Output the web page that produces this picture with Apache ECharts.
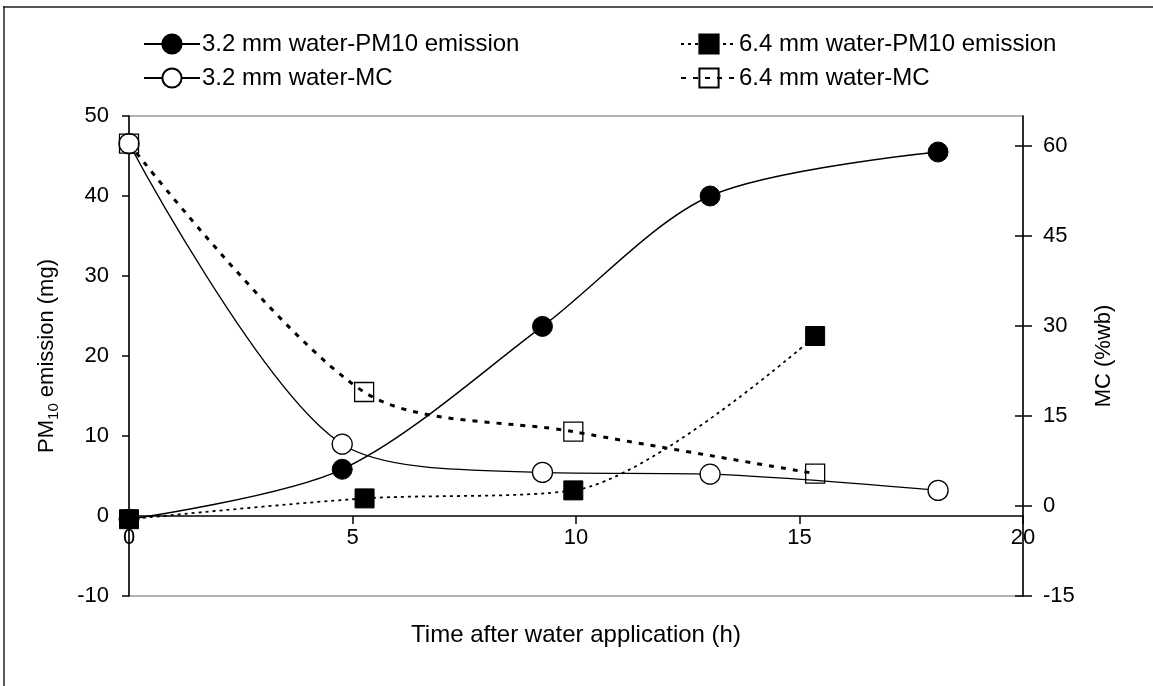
<!DOCTYPE html>
<html>
<head>
<meta charset="utf-8">
<script src="https://cdn.jsdelivr.net/npm/echarts@6/dist/echarts.min.js"></script>
<style>
  html, body { margin: 0; padding: 0; background: #fff; }
  #chart { width: 1153px; height: 686px; }
</style>
</head>
<body>
<div id="chart"></div>
<script>
// Time after water application (h) and measured values
const pm32Time  = [0, 4.77, 9.25, 13.0, 18.1];
const pm32Value = [-0.4, 5.84, 23.7, 40.0, 45.5];   // PM10 emission (mg), 3.2 mm water

const pm64Time  = [0, 5.27, 9.94, 15.35];
const pm64Value = [-0.4, 2.2, 3.2, 22.5];           // PM10 emission (mg), 6.4 mm water

const mc32Time  = [0, 4.77, 9.25, 13.0, 18.1];
const mc32Value = [60.4, 10.3, 5.6, 5.3, 2.6];      // MC (%wb), 3.2 mm water

const mc64Time  = [0, 5.26, 9.94, 15.35];
const mc64Value = [60.4, 19.0, 12.4, 5.4];          // MC (%wb), 6.4 mm water

const seriesNames = [
  '3.2 mm water-PM10 emission',
  '6.4 mm water-PM10 emission',
  '3.2 mm water-MC',
  '6.4 mm water-MC'
];

const xTicks = [0, 5, 10, 15, 20];
const leftTicks = [-10, 0, 10, 20, 30, 40, 50];
const rightTicks = [-15, 0, 15, 30, 45, 60];

const pairs = (xs, ys) => xs.map((x, i) => [x, ys[i]]);

const FONT = 'Liberation Sans, Arial, sans-serif';
const BLACK = '#000';

const chart = echarts.init(document.getElementById('chart'), null, { renderer: 'canvas' });

const legendBase = {
  itemWidth: 56,
  itemHeight: 24,
  itemGap: 0,
  textStyle: { fontFamily: FONT, fontSize: 24, color: BLACK, padding: [0, 0, 0, -3] },
  selectedMode: false
};

chart.setOption({
  animation: false,
  backgroundColor: '#fff',
  textStyle: { fontFamily: FONT },
  grid: {
    left: 129, right: 130, top: 116, bottom: 90,
    outerBoundsMode: 'none',
    containLabel: false,
    show: true, borderColor: '#999', borderWidth: 1.5, backgroundColor: 'transparent'
  },
  legend: [
    Object.assign({ left: 138, top: 27, data: [seriesNames[0]] }, legendBase),
    Object.assign({ left: 675, top: 27, data: [seriesNames[1]] }, legendBase),
    Object.assign({ left: 138, top: 61, data: [seriesNames[2]] }, legendBase),
    Object.assign({ left: 675, top: 61, data: [seriesNames[3]] }, legendBase)
  ],
  xAxis: {
    type: 'value', min: 0, max: 20, interval: 5,
    name: 'Time after water application (h)',
    nameLocation: 'middle', nameGap: 27,
    nameTextStyle: { fontFamily: FONT, fontSize: 24, color: BLACK },
    axisLine: { onZero: true, lineStyle: { color: BLACK, width: 1.5 } },
    axisTick: { show: true, length: 8, lineStyle: { color: BLACK, width: 1.5 }, customValues: xTicks },
    axisLabel: { fontFamily: FONT, fontSize: 22, color: BLACK, margin: -69, customValues: xTicks },
    splitLine: { show: false }
  },
  yAxis: [
    {
      type: 'value', min: -10, max: 50, interval: 10, position: 'left',
      name: 'PM{sub|10} emission (mg)',
      nameLocation: 'middle', nameGap: 68, nameRotate: 90,
      nameTextStyle: {
        fontFamily: FONT, fontSize: 22, color: BLACK,
        rich: { sub: { fontFamily: FONT, fontSize: 15, color: BLACK, verticalAlign: 'bottom', lineHeight: 28 } }
      },
      axisLine: { show: true, onZero: false, lineStyle: { color: BLACK, width: 1.5 } },
      axisTick: { show: true, length: 7, lineStyle: { color: BLACK, width: 1.5 }, customValues: leftTicks },
      axisLabel: { fontFamily: FONT, fontSize: 22, color: BLACK, margin: 20, customValues: leftTicks },
      splitLine: { show: false }
    },
    {
      type: 'value', min: -15, max: 65, position: 'right',
      name: 'MC (%wb)',
      nameLocation: 'middle', nameGap: 70, nameRotate: 90,
      nameTextStyle: { fontFamily: FONT, fontSize: 22, color: BLACK },
      axisLine: { show: true, onZero: false, lineStyle: { color: BLACK, width: 1.5 } },
      axisTick: { show: true, length: 9, lineStyle: { color: BLACK, width: 1.5 }, customValues: rightTicks },
      axisLabel: { fontFamily: FONT, fontSize: 22, color: BLACK, margin: 20, customValues: rightTicks },
      splitLine: { show: false }
    },
    {
      // inner half of the crossing ticks on the right axis
      type: 'value', min: -15, max: 65, position: 'right',
      axisLine: { show: false, onZero: false },
      axisTick: { show: true, inside: true, length: 8, lineStyle: { color: BLACK, width: 1.5 }, customValues: rightTicks },
      axisLabel: { show: false },
      splitLine: { show: false }
    }
  ],
  series: [
    {
      name: seriesNames[0], type: 'line', yAxisIndex: 0, smooth: 0.3,
      data: pairs(pm32Time, pm32Value),
      symbol: 'circle', symbolSize: 20,
      itemStyle: { color: BLACK, borderColor: BLACK, borderWidth: 1 },
      lineStyle: { color: BLACK, width: 1.4, type: 'solid' },
      z: 4
    },
    {
      name: seriesNames[1], type: 'line', yAxisIndex: 0, smooth: 0.3,
      data: pairs(pm64Time, pm64Value),
      symbol: 'rect', symbolSize: 19,
      itemStyle: { color: BLACK, borderColor: BLACK, borderWidth: 1 },
      lineStyle: { color: BLACK, width: 1.8, type: [3, 4] },
      z: 5
    },
    {
      name: seriesNames[2], type: 'line', yAxisIndex: 1, smooth: 0.3,
      data: pairs(mc32Time, mc32Value),
      symbol: 'circle', symbolSize: 20,
      itemStyle: { color: '#fff', borderColor: BLACK, borderWidth: 1.3 },
      lineStyle: { color: BLACK, width: 1.3, type: 'solid' },
      z: 3
    },
    {
      name: seriesNames[3], type: 'line', yAxisIndex: 1, smooth: 0.3,
      data: pairs(mc64Time, mc64Value),
      symbol: 'rect', symbolSize: 19,
      itemStyle: { color: 'transparent', borderColor: BLACK, borderWidth: 1.3 },
      lineStyle: { color: BLACK, width: 3, type: [5, 7] },
      z: 3
    }
  ],
  graphic: [
    { type: 'line', shape: { x1: 3, y1: 7, x2: 1153, y2: 7 }, style: { stroke: '#555', lineWidth: 2 }, silent: true },
    { type: 'line', shape: { x1: 4, y1: 6, x2: 4, y2: 686 }, style: { stroke: '#222', lineWidth: 1.5 }, silent: true }
  ]
});
</script>
</body>
</html>
